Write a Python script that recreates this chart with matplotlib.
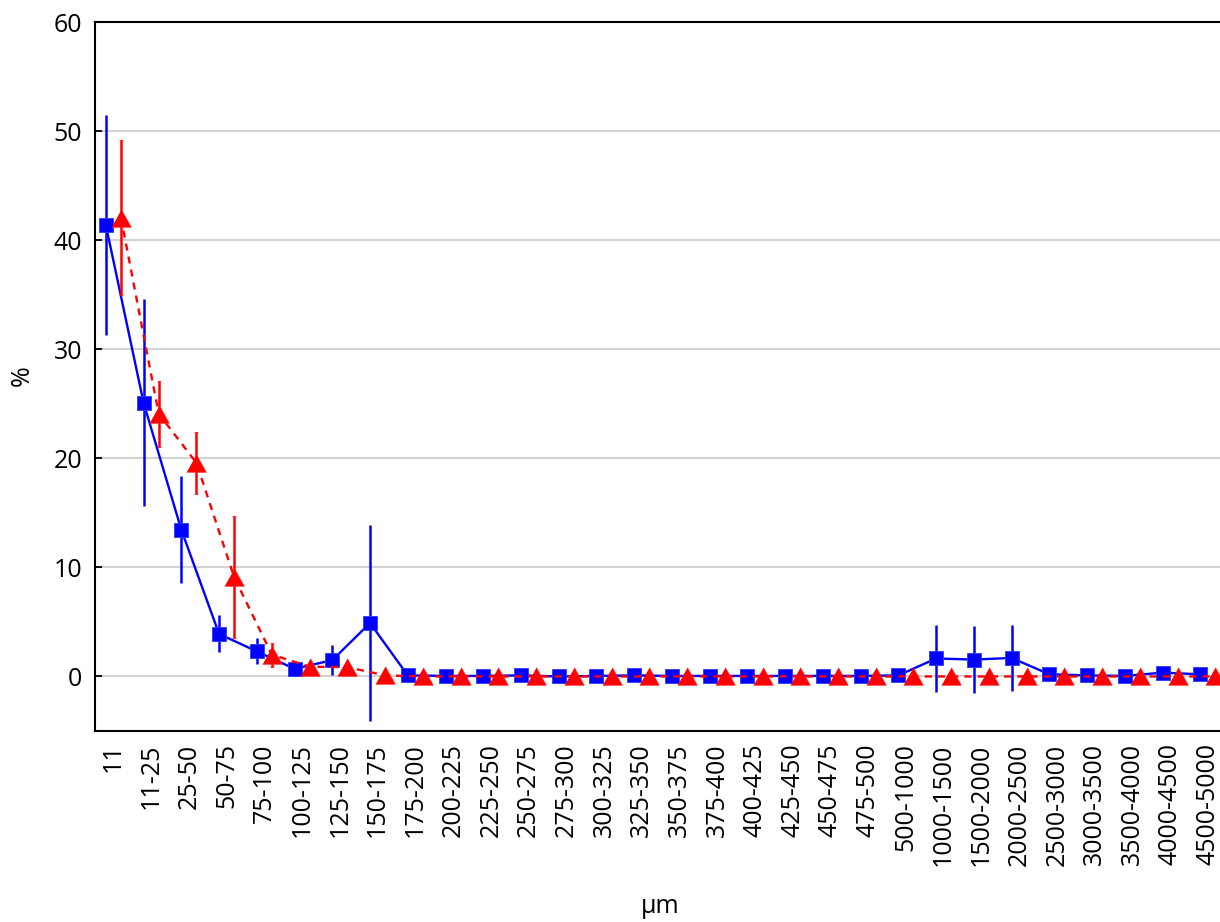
import numpy as np
import matplotlib
matplotlib.use("Agg")
import matplotlib.pyplot as plt
from matplotlib.ticker import FixedLocator

categories = ["11", "11-25", "25-50", "50-75", "75-100", "100-125", "125-150", "150-175",
              "175-200", "200-225", "225-250", "250-275", "275-300", "300-325", "325-350",
              "350-375", "375-400", "400-425", "425-450", "450-475", "475-500", "500-1000",
              "1000-1500", "1500-2000", "2000-2500", "2500-3000", "3000-3500", "3500-4000",
              "4000-4500", "4500-5000"]

blue_values = [41.4, 25.1, 13.45, 3.9, 2.3, 0.7, 1.5, 4.9,
               0.1, 0.05, 0.05, 0.1, 0.0, 0.05, 0.1,
               0.05, 0.05, 0.05, 0.05, 0.05, 0.05, 0.1,
               1.65, 1.55, 1.7, 0.2, 0.1, 0.05,
               0.35, 0.2]
blue_errors = [10.1, 9.5, 4.9, 1.7, 1.2, 0.7, 1.4, 9.0,
               0.0, 0.0, 0.0, 0.0, 0.0, 0.0, 0.0,
               0.0, 0.0, 0.0, 0.0, 0.0, 0.0, 0.0,
               3.05, 3.05, 3.05, 0.0, 0.0, 0.0,
               0.25, 0.0]

red_values = [42.1, 24.1, 19.6, 9.1, 2.0, 0.9, 0.85, 0.1,
              0.0, 0.0, 0.0, 0.0, 0.0, 0.0, 0.0,
              0.0, 0.0, 0.0, 0.0, 0.0, 0.0, 0.0,
              0.0, 0.0, 0.0, 0.0, 0.0, 0.0,
              0.0, 0.0]
red_errors = [7.1, 3.05, 2.85, 5.6, 1.1, 0.3, 0.3, 0.0,
              0.0, 0.0, 0.0, 0.0, 0.0, 0.0, 0.0,
              0.0, 0.0, 0.0, 0.0, 0.0, 0.0, 0.0,
              0.0, 0.0, 0.0, 0.0, 0.0, 0.0,
              0.0, 0.0]

y_ticks = [0, 10, 20, 30, 40, 50, 60]

plt.rcParams['font.family'] = ['Open Sans', 'DejaVu Sans']

fig = plt.figure(figsize=(12.2, 9.22), dpi=100)
ax = fig.add_axes([0.0775, 0.2072, 0.928, 0.7684])

x = np.arange(len(categories))
off = 0.2

ax.errorbar(x - off, blue_values, yerr=blue_errors, color='#0000ff', lw=1.7,
            marker='s', markersize=10.3, markeredgecolor='#2a3cff', markeredgewidth=0.6,
            elinewidth=1.8, capsize=0, zorder=3)

tri = [(-1.0, -0.9), (1.0, -0.9), (0.0, 0.9)]
ax.errorbar(x + off, red_values, yerr=red_errors, color='#ff0000', lw=1.7,
            linestyle=(0, (3.0, 2.6)), marker=tri, markersize=14,
            markeredgecolor='#ff2222', markeredgewidth=0.5,
            elinewidth=1.8, capsize=1.3, capthick=1.3, zorder=4)

ax.set_xlim(-0.5, len(categories) - 0.5)
ax.set_ylim(-5, 60)

ax.set_xticks(x)
ax.set_xticklabels(categories, rotation=90, fontsize=18)
ax.xaxis.set_minor_locator(FixedLocator(x[::2]))
ax.tick_params(axis='x', which='major', length=0, pad=9)
ax.tick_params(axis='x', which='minor', direction='in', length=5, width=1.3,
               top=True, bottom=True)

ax.set_yticks(y_ticks)
ax.set_yticklabels([str(v) for v in y_ticks], fontsize=18)
ax.tick_params(axis='y', which='major', direction='in', length=5, width=1.3, pad=9)

ax.grid(axis='y', color='#d3d3d3', lw=1.5, zorder=0)
ax.set_axisbelow(True)

for s in ax.spines.values():
    s.set_linewidth(1.5)
    s.set_color('black')

fig.text(0.541, 0.0163, 'µm', fontsize=18, ha='center', va='center')
fig.text(0.018, 0.593, '%', fontsize=18, ha='center', va='center', rotation=90)

fig.savefig('out.png', dpi=100)
